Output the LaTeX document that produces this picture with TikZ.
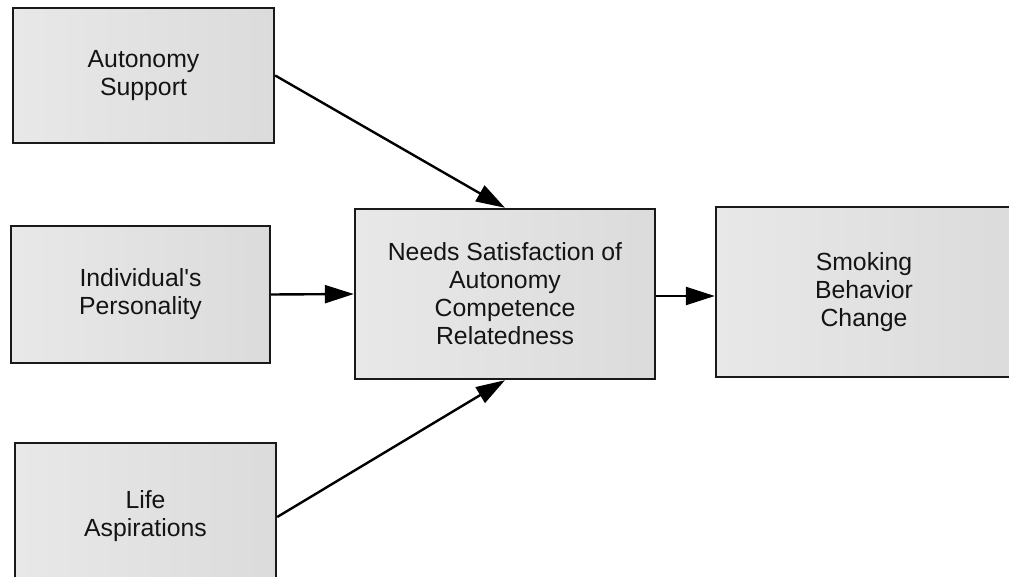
\documentclass[tikz,border=0pt]{standalone}
\usepackage{fontspec}
\setmainfont{Liberation Sans}
\usetikzlibrary{arrows.meta}
\tikzset{
  boxnode/.style={draw=black!90, line width=2.4pt, rectangle, align=center,
    left color=black!9, right color=black!14, text=black!92,
    font=\fontsize{24.8}{28}\selectfont, inner sep=0pt},
  conn/.style={line width=2.4pt, draw=black, -{Triangle[length=29pt,width=18pt]}}
}
\begin{document}
\begin{tikzpicture}[x=1pt,y=-1pt]
\useasboundingbox (0,0) rectangle (1009,577);
\clip (0,0) rectangle (1009,577);
\node[boxnode, minimum width=261pt, minimum height=135pt] (aut) at (143.5,75.5) {Autonomy\\Support};
\node[boxnode, minimum width=259pt, minimum height=137pt] (ind) at (140.5,294.5) {Individual\textquotesingle s\\Personality};
\node[boxnode, minimum width=261pt, minimum height=148pt] (life) at (145.5,517) {\raisebox{5pt}{\begin{tabular}{@{}c@{}}Life\\Aspirations\end{tabular}}};
\node[boxnode, minimum width=300pt, minimum height=170pt] (need) at (505,294) {Needs Satisfaction of\\Autonomy\\Competence\\Relatedness};
\node[boxnode, minimum width=296pt, minimum height=170pt] (smok) at (864,292) {Smoking\\Behavior\\Change};
\draw[conn] (aut.east) -- (need.north);
\draw[conn] (ind.east) -- (need.west);
\draw[conn] (life.east) -- (need.south);
\draw[conn] ([yshift=-2pt]need.east) -- ([yshift=-2pt]need.east -| smok.west);
\end{tikzpicture}
\end{document}
